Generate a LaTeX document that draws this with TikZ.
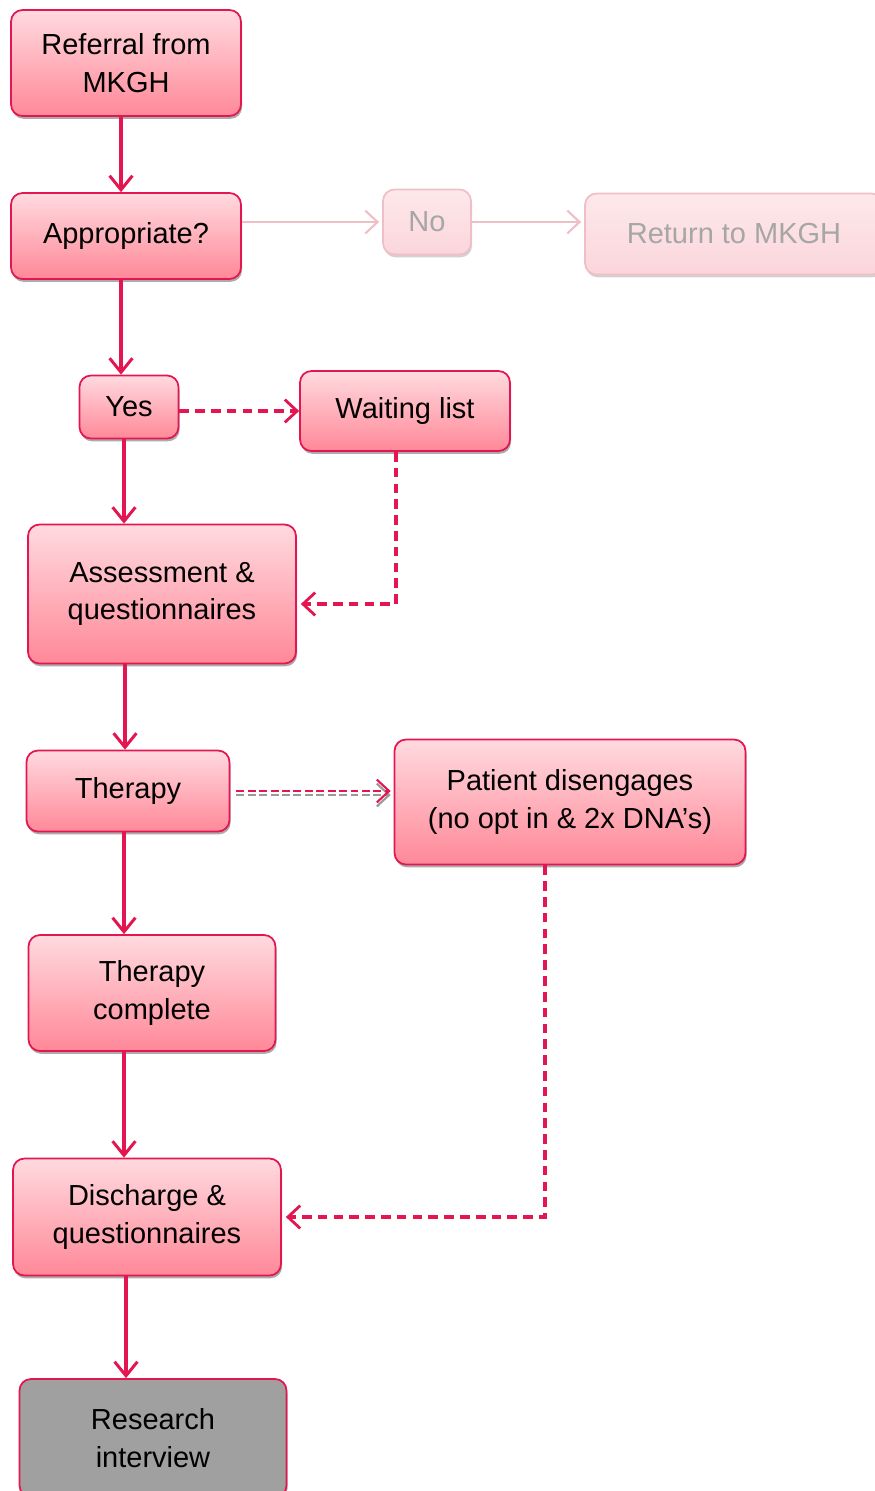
\documentclass[tikz,border=0pt]{standalone}
\usepackage{fontspec}
\setmainfont{Liberation Sans}
\usepackage{tikz}
\usetikzlibrary{arrows.meta}
\usetikzlibrary{shadows}
\usetikzlibrary{calc}

\definecolor{rimred}{RGB}{228,22,82}
\definecolor{boxtop}{RGB}{255,218,223}
\definecolor{boxbot}{RGB}{255,136,152}
\definecolor{fadeline}{RGB}{240,190,198}
\definecolor{fadetop}{RGB}{253,232,235}
\definecolor{fadebot}{RGB}{251,214,219}
\definecolor{fadetext}{RGB}{166,166,166}
\definecolor{resgrey}{RGB}{160,160,160}

\tikzset{
  flow/.style={draw=rimred,line width=2.3pt,-{Straight Barb[length=8pt,width=13pt,line width=1.7pt]}},
  dashflow/.style={draw=rimred,line width=1.9pt,dash pattern=on 5.5pt off 3.5pt,
    -{Straight Barb[length=7pt,width=13pt,line width=1.6pt]}},
  thinflow/.style={line width=1.2pt,dash pattern=on 4.5pt off 2pt,
    -{Straight Barb[length=7pt,width=13pt,line width=1.2pt]}},
  fadeflow/.style={draw=fadeline,line width=1.2pt,-{Straight Barb[length=7pt,width=13pt,line width=1.2pt]}}
}

\begin{document}
\begin{tikzpicture}[x=0.02cm,y=-0.02cm]
    \useasboundingbox (0,0) rectangle (875,1491);
    \begin{scope}[every node/.style={rectangle,rounded corners=6.5pt,draw=rimred,line width=1pt,
        top color=boxtop,bottom color=boxbot,align=center,inner sep=0pt,
        drop shadow={shadow xshift=0.6pt,shadow yshift=-1.6pt,fill=black!55,opacity=0.6},
        font=\fontsize{16.5}{21.5}\selectfont}]
      \node[minimum width=4.6cm,minimum height=2.12cm] (ref) at (126,63) {Referral from\\MKGH};
      \node[minimum width=4.6cm,minimum height=1.72cm] (app) at (126,236) {Appropriate?};
      \node[minimum width=1.98cm,minimum height=1.26cm] (yes) at (129,407) {Yes};
      \node[minimum width=4.2cm,minimum height=1.6cm] (wait) at (405,411) {Waiting list};
      \node[minimum width=5.36cm,minimum height=2.78cm] (assess) at (162,594) {Assessment \&\\questionnaires};
      \node[minimum width=4.06cm,minimum height=1.62cm] (ther) at (128,791) {Therapy};
      \node[minimum width=7.02cm,minimum height=2.5cm] (pat) at (570,802) {Patient disengages\\(no opt in \& 2x DNA’s)};
      \node[minimum width=4.94cm,minimum height=2.32cm] (done) at (152,993) {Therapy\\complete};
      \node[minimum width=5.36cm,minimum height=2.34cm] (dis) at (147,1217) {Discharge \&\\questionnaires};
      \node[minimum width=5.34cm,minimum height=2.36cm,top color=resgrey,bottom color=resgrey] (res) at (153,1438) {Research\\interview};
    \end{scope}
    \begin{scope}[every node/.style={rectangle,rounded corners=6.5pt,draw=fadeline,line width=1pt,
        top color=fadetop,bottom color=fadebot,align=center,inner sep=0pt,text=fadetext,
        drop shadow={shadow xshift=0.6pt,shadow yshift=-1.6pt,fill=black!35,opacity=0.5},
        font=\fontsize{16.5}{21.5}\selectfont}]
      \node[minimum width=1.76cm,minimum height=1.3cm] (no) at (427,222) {No};
      \node[minimum width=5.96cm,minimum height=1.62cm] (ret) at (734,234) {Return to MKGH};
    \end{scope}
    % main line
    \draw[flow] ($(ref.south)+(-5,0)$) -- ($(app.north)+(-5,0)$);
    \draw[flow] ($(app.south)+(-5,0)$) -- ($(app.south |- yes.north)+(-5,0)$);
    \draw[flow] ($(yes.south)+(-5,0)$) -- ($(yes.south |- assess.north)+(-5,0)$);
    \draw[flow] ($(assess.south -| ther)+(-3,0)$) -- ($(ther.north)+(-3,0)$);
    \draw[flow] ($(ther.south)+(-4,0)$) -- ($(ther.south |- done.north)+(-4,0)$);
    \draw[flow] ($(done.south -| ther)+(-4,0)$) -- ($(ther |- dis.north)+(-4,0)$);
    \draw[flow] ($(dis.south)+(-21,0)$) -- ($(dis.south |- res.north)+(-21,0)$);
    % dashed side routes
    \draw[dashflow] (yes.east |- wait) -- (wait.west);
    \draw[dashflow] ($(wait.south)+(-9,0)$) |- ($(assess.east)+(4,10)$);
    \draw[dashflow] ($(pat.south)+(-25,0)$) |- ($(dis.east)+(4,0)$);
    % double dashed link to patient disengages
    \draw[thinflow,draw=black!40] ($(ther.east)+(6,4)$) -- ($(pat.west |- ther.east)+(-3,4)$);
    \draw[thinflow,draw=rimred] ($(ther.east)+(6,0)$) -- ($(pat.west |- ther.east)+(-3,0)$);
    % faded branch
    \draw[fadeflow] (no.west -| app.east) -- ($(no.west)+(-3,0)$);
    \draw[fadeflow] (no.east) -- ($(no.east -| ret.west)+(-3,0)$);
  \end{tikzpicture}
\end{document}
